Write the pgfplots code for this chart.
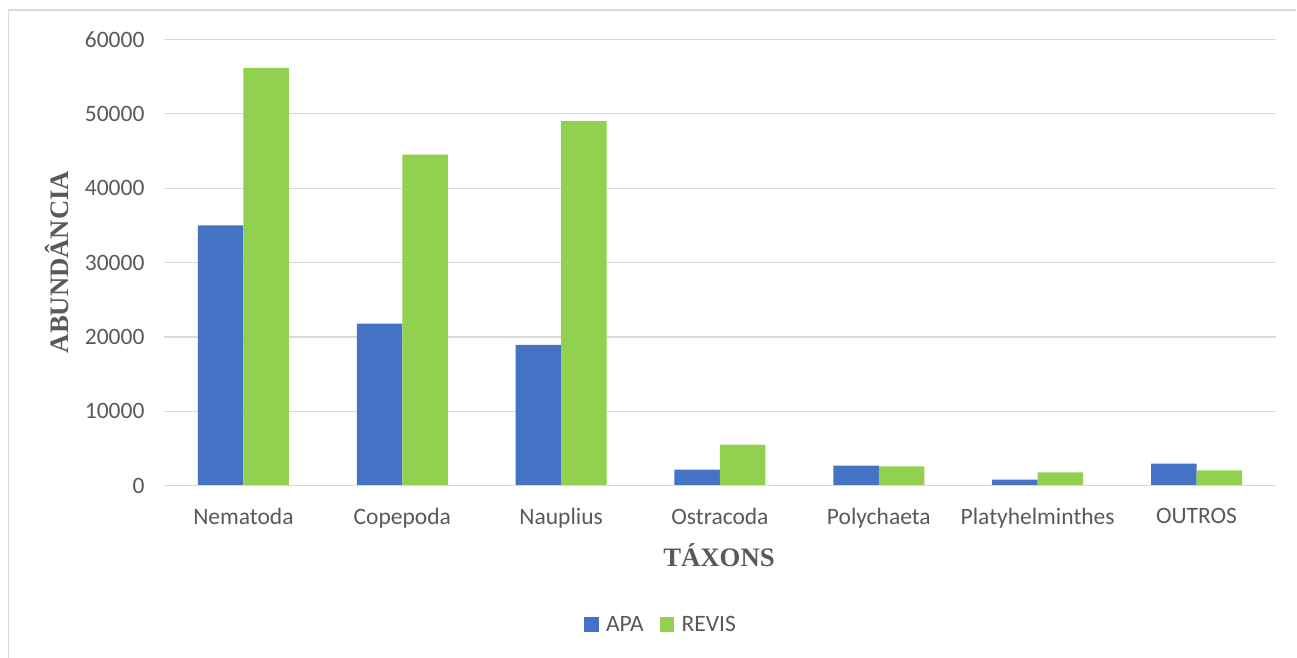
\documentclass[border=0pt]{standalone}
\usepackage{fontspec}
\setmainfont{Carlito}
\newfontfamily\tnr{Liberation Serif}
\usepackage{pgfplots}
\pgfplotsset{compat=1.18}
\definecolor{apa}{HTML}{4472C4}
\definecolor{revis}{HTML}{92D050}
\definecolor{txt}{HTML}{595959}
\definecolor{gridc}{HTML}{D9D9D9}
\begin{document}
\begin{tikzpicture}
\useasboundingbox (0pt,0pt) rectangle (1297pt,657pt);
\draw[gridc,line width=1.2pt] (8.5pt,-5pt) -- (8.5pt,647pt) -- (1296pt,647pt);
\begin{axis}[
  at={(164pt,171.3pt)}, anchor=south west,
  scale only axis, width=1112pt, height=446.2pt,
  ybar=0pt, bar width=45.5pt,
  xmin=-0.5, xmax=6.5, ymin=0, ymax=60000,
  xtick={0,...,6},
  xticklabels={Nematoda,Copepoda,Nauplius,Ostracoda,Polychaeta,Platyhelminthes,OUTROS},
  ytick={0,10000,...,60000},
  scaled y ticks=false,
  /pgf/number format/assume math mode=true,
  yticklabel={\pgfmathprintnumber[fixed,1000 sep={}]{\tick}},
  ymajorgrids, grid style={color=gridc,line width=1.2pt},
  axis line style={draw=none},
  major tick length=0pt,
  tick label style={font=\fontsize{23.5}{28}\selectfont, text=txt},
  yticklabel style={xshift=-16pt},
  xticklabel style={yshift=-19pt},
  legend style={at={(0.447,-0.312)}, anchor=center, draw=none,
    legend columns=2, font=\fontsize{23.5}{28}\selectfont, text=txt,
    /tikz/every even column/.append style={column sep=14pt}},
  legend image code/.code={\fill[#1] (0pt,-7pt) rectangle (14.5pt,7.5pt); \path (20pt,0pt);},
]
\addplot[fill=apa, draw=none] coordinates {(0,35000) (1,21800) (2,18950) (3,2150) (4,2690) (5,810) (6,2960)};
\addplot[fill=revis, draw=none] coordinates {(0,56200) (1,44530) (2,49010) (3,5520) (4,2600) (5,1800) (6,2070)};
\legend{APA,REVIS}
\draw[gridc,line width=1.2pt] (axis cs:-0.5,0) -- (axis cs:6.5,0);
\end{axis}
\node[text=txt, font=\tnr\bfseries\fontsize{26.7}{30}\selectfont] at (719pt,102pt) {TÁXONS};
\node[text=txt, font=\tnr\bfseries\fontsize{26.7}{30}\selectfont, rotate=90] at (57pt,395pt) {ABUNDÂNCIA};
\end{tikzpicture}
\end{document}
